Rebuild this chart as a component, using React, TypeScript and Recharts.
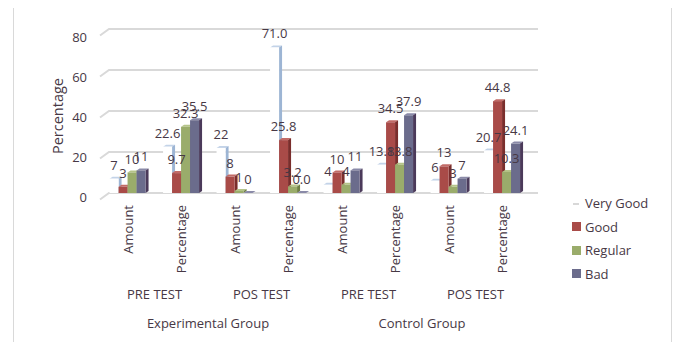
import { Bar, BarChart, CartesianGrid, LabelList, Legend, XAxis, YAxis } from "recharts";

// Experimental vs control group results, 3D-style clustered bars (Excel look)

const subLabels = ["Amount", "Percentage", "Amount", "Percentage", "Amount", "Percentage", "Amount", "Percentage"];
const testLabels = ["PRE TEST", "POS TEST", "PRE TEST", "POS TEST"];
const groupLabels = ["Experimental Group", "Control Group"];

const veryGood = [7, 22.6, 22, 71.0, 4, 13.8, 6, 20.7];
const good = [3, 9.7, 8, 25.8, 10, 34.5, 13, 44.8];
const regular = [10, 32.3, 1, 3.2, 4, 13.8, 3, 10.3];
const bad = [11, 35.5, 0, 0.0, 11, 37.9, 7, 24.1];

const yTicks = [0, 10, 20, 30, 40, 50, 60, 70, 80];

const data = subLabels.map((sub, i) => ({
  sub,
  veryGood: veryGood[i],
  good: good[i],
  regular: regular[i],
  bad: bad[i]
}));

const FONT = "'Open Sans', sans-serif";
const TEXT = "#473845";

const SERIES = [
  { key: "veryGood", name: "Very Good", front: "#ffffff", side: "#9db5d4", top: "#c3d3e8" },
  { key: "good", name: "Good", front: "#a94b48", side: "#7a2e2c", top: "#c26b67" },
  { key: "regular", name: "Regular", front: "#9aac6b", side: "#6f7f45", top: "#b5c489" },
  { key: "bad", name: "Bad", front: "#6b6c8c", side: "#4b3a5a", top: "#8a8aa8" }
];

function make3dShape(s: (typeof SERIES)[number]) {
  return (props: any) => {
    const { x, y, width, height } = props;
    const d = 3;
    const dd = 2;
    return (
      <g>
        <polygon
          points={`${x},${y} ${x + d},${y - dd} ${x + width + d},${y - dd} ${x + width},${y}`}
          fill={s.top}
        />
        <polygon
          points={`${x + width},${y} ${x + width + d},${y - dd} ${x + width + d},${y + height - dd} ${x + width},${y + height}`}
          fill={s.side}
        />
        <rect x={x} y={y} width={width} height={height} fill={s.front} />
      </g>
    );
  };
}

function valueLabel(props: any) {
  const { x, y, width, value, index } = props;
  const txt = index % 2 === 1 ? Number(value).toFixed(1) : String(value);
  return (
    <text x={x + width / 2} y={y - 9} textAnchor="middle" fontSize={13} fontFamily={FONT} fill={TEXT}>
      {txt}
    </text>
  );
}

function XTick(props: any) {
  const { x, y, payload } = props;
  const idx = payload.index;
  const half = payload.offset || 26.7;
  return (
    <g>
      <text
        transform={`translate(${x},${y + 12}) rotate(-90)`}
        textAnchor="end"
        dominantBaseline="central"
        fontSize={13}
        fontFamily={FONT}
        fill={TEXT}
      >
        {payload.value}
      </text>
      {idx % 2 === 0 && (
        <text x={x + half} y={y + 101} textAnchor="middle" dominantBaseline="central" fontSize={13} fontFamily={FONT} fill={TEXT}>
          {testLabels[idx / 2]}
        </text>
      )}
      {idx % 4 === 0 && (
        <text x={x + 3 * half} y={y + 130} textAnchor="middle" dominantBaseline="central" fontSize={13} fontFamily={FONT} fill={TEXT}>
          {groupLabels[idx / 4]}
        </text>
      )}
    </g>
  );
}

function YTick(props: any) {
  const { x, y, payload } = props;
  const v = Number(payload.value);
  return (
    <text x={x} y={y + 3.5 + (4 * v) / 80} textAnchor="end" dominantBaseline="central" fontSize={13} fontFamily={FONT} fill={TEXT}>
      {payload.value}
    </text>
  );
}

function gridLine(props: any) {
  const { x1, x2, y1, index } = props;
  return (
    <path
      key={`g-${index}`}
      d={`M${x1 - 1},${y1 + 6.5} L${x1 + 8},${y1} L${x2 + 9},${y1}`}
      fill="none"
      stroke="#d9d9d9"
      strokeWidth={2}
    />
  );
}

function LegendBox() {
  return (
    <div style={{ fontFamily: FONT, fontSize: 13, color: TEXT }}>
      {SERIES.map((s) => (
        <div key={s.key} style={{ display: "flex", alignItems: "center", height: 23.7 }}>
          {s.key === "veryGood" ? (
            <span style={{ width: 9, height: 9, marginRight: 4, position: "relative", display: "inline-block" }}>
              <span style={{ position: "absolute", left: 1, top: 5, width: 6, height: 2, background: "#d8d8d8" }} />
            </span>
          ) : (
            <span style={{ width: 9, height: 9, marginRight: 4, background: s.front, display: "inline-block" }} />
          )}
          <span>{s.name}</span>
        </div>
      ))}
    </div>
  );
}

export default function App() {
  return (
    <div style={{ position: "relative", width: 681, height: 350, margin: -8, background: "#fff" }}>
      <div
        style={{
          position: "absolute",
          left: 13,
          top: 6,
          width: 659,
          height: 337,
          border: "1px solid #d9d9d9",
          boxSizing: "border-box"
        }}
      />
      <div
        style={{
          position: "absolute",
          left: 57,
          top: 116,
          transform: "translate(-50%, -50%) rotate(-90deg)",
          fontFamily: FONT,
          fontSize: 14.5,
          color: TEXT,
          whiteSpace: "nowrap"
        }}
      >
        Percentage
      </div>
      <div style={{ position: "absolute", left: 0, top: 0 }}>
        <BarChart
          width={681}
          height={350}
          data={data}
          margin={{ top: 29, right: 152, left: 61, bottom: 17 }}
          barGap={0}
          barCategoryGap="16%"
        >
          <CartesianGrid vertical={false} horizontal={gridLine} />
          <XAxis
            dataKey="sub"
            height={140}
            interval={0}
            axisLine={false}
            tickLine={false}
            tickSize={0}
            tickMargin={0}
            tick={<XTick />}
          />
          <YAxis
            width={40}
            domain={[0, 80]}
            ticks={yTicks}
            axisLine={false}
            tickLine={false}
            tickSize={0}
            tickMargin={14}
            tick={<YTick />}
          />
          <Legend
            layout="vertical"
            align="center"
            verticalAlign="middle"
            content={<LegendBox />}
            wrapperStyle={{ left: 572, top: 191, width: 110 }}
          />
          {SERIES.map((s) => (
            <Bar
              key={s.key}
              dataKey={s.key}
              name={s.name}
              fill={s.front}
              shape={make3dShape(s)}
              isAnimationActive={false}
            >
              <LabelList dataKey={s.key} content={valueLabel} />
            </Bar>
          ))}
        </BarChart>
      </div>
    </div>
  );
}
